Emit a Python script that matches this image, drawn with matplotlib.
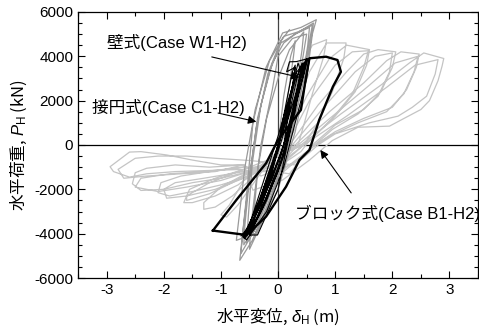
import matplotlib
matplotlib.use("Agg")
import matplotlib.pyplot as plt
from matplotlib.ticker import MultipleLocator

plt.rcParams['font.family'] = ['Liberation Sans', 'Noto Sans CJK JP']
plt.rcParams['mathtext.fontset'] = 'custom'
plt.rcParams['mathtext.rm'] = 'Liberation Sans'
plt.rcParams['mathtext.it'] = 'Liberation Sans:italic'

# ---------------- data ----------------
# Block type (Case B1-H2) - light gray
block_x = [0.0, 0.2, 0.45, 0.6, 0.85, 0.8, 0.6, 0.45, 0.35, 0.1, -0.3, -0.6, -0.85, -1.0, -0.9, -0.7, -0.45, -0.2,
           0.0, 0.3, 0.55, 0.85, 1.19, 1.15, 0.95, 0.7, 0.45, 0.1, -0.5, -1.0, -1.3, -1.3, -1.1, -0.8, -0.5, -0.2,
           0.1, 0.5, 0.9, 1.2, 1.6, 1.55, 1.35, 1.0, 0.6, 0.45, 0.1, -0.6, -1.1, -1.55, -1.65, -1.5, -1.1, -0.7, -0.3,
           0.15, 0.55, 1.0, 1.3, 1.58, 1.5, 1.3, 0.95, 0.55, 0.4, 0.0, -0.7, -1.2, -1.6, -1.6, -1.2, -0.8, -0.4,
           0.2, 0.7, 1.2, 1.5, 1.75, 2.06, 2.0, 1.8, 1.5, 1.0, 0.6, 0.2, -0.6, -1.2, -1.7, -2.05, -2.1, -1.9, -1.5, -1.0, -0.5,
           0.25, 0.8, 1.35, 1.7, 2.0, 1.95, 1.75, 1.4, 0.95, 0.55, 0.1, -0.6, -1.3, -1.8, -2.0, -1.95, -1.6, -1.1, -0.6,
           0.3, 0.9, 1.5, 1.9, 2.15, 2.47, 2.42, 2.25, 2.0, 1.5, 1.0, 0.65, 0.3, -0.3, -0.6, -1.2, -1.8, -2.3, -2.5, -2.55, -2.4, -2.0, -1.5, -1.0, -0.5,
           0.35, 1.0, 1.6, 2.05, 2.45, 2.38, 2.2, 1.9, 1.4, 0.9, 0.6, 0.1, -0.6, -1.3, -1.9, -2.4, -2.5, -2.1, -1.6, -1.0, -0.5,
           0.4, 1.1, 1.8, 2.3, 2.55, 2.9, 2.87, 2.8, 2.65, 2.5, 1.95, 1.4, 0.95, 0.55, 0.08, -0.44, -0.6, -1.0, -1.5, -1.95, -2.4, -2.6, -2.94,
           -2.88, -2.6, -2.3, -1.8, -1.2, -0.6, -0.2,
           0.45, 1.2, 1.9, 2.4, 2.8, 2.75, 2.6, 2.35, 2.1, 1.6, 1.0, 0.7, 0.3, -0.5, -1.1, -1.6, -2.1, -2.5, -2.8, -2.7, -2.3, -1.7, -1.1, -0.6]
block_y = [0, 1500, 3800, 4500, 4750, 4000, 2300, 900, 0, -700, -1100, -1600, -2700, -3150, -3250, -2700, -1800, -900,
           -200, 1500, 3300, 4600, 4600, 3900, 2400, 1000, 0, -800, -1200, -1900, -2600, -2900, -2800, -2300, -1600, -900,
           0, 2200, 3900, 4500, 4300, 3600, 2400, 1300, 300, 0, -700, -1100, -1500, -2000, -2600, -2600, -2300, -1800, -1000,
           0, 2000, 3600, 4200, 4250, 3500, 2300, 1200, 200, -300, -1000, -1200, -1700, -2300, -2500, -2200, -1700, -1100,
           0, 1800, 3300, 4100, 4300, 4200, 3500, 2400, 1600, 900, 0, -1300, -1000, -1200, -1400, -1700, -2150, -2300, -2100, -1800, -1400,
           0, 1700, 3300, 4000, 4150, 3300, 2200, 1400, 700, -200, -1200, -1200, -1500, -1700, -2000, -2400, -2300, -2000, -1500,
           0, 1500, 2800, 3800, 4200, 4100, 3500, 2500, 1700, 1200, 600, 0, -800, -1400, -900, -1000, -900, -1050, -1250, -1750, -2050, -2000, -1700, -1500, -1200,
           0, 1400, 2700, 3700, 4000, 3300, 2300, 1500, 1000, 400, -100, -1100, -1000, -1200, -1300, -1500, -1900, -2100, -1900, -1600, -1200,
           0, 1400, 2700, 3700, 4150, 3900, 3550, 2900, 2000, 1600, 850, 800, 200, -680, -1580, -2040, -900, -900, -680, -450, -300, -320, -980,
           -1200, -1450, -1300, -1200, -1150, -1100, -700,
           0, 1300, 2600, 3600, 3850, 3200, 2200, 1700, 1300, 1000, 500, 0, -900, -700, -600, -500, -500, -600, -1100, -1500, -1400, -1300, -1200, -900]

# Circular type (Case C1-H2) - medium gray
circ_x = [0.0, 0.1, 0.22, 0.3, 0.27, 0.15, -0.05, -0.25, -0.4, -0.45, -0.42, -0.35, -0.2, 0.0,
          0.2, 0.45, 0.42, 0.3, 0.1, -0.15, -0.4, -0.55, -0.52, -0.45, -0.3, -0.1, 0.1,
          0.3, 0.55, 0.52, 0.4, 0.2, -0.1, -0.45, -0.67, -0.62, -0.56, -0.44, -0.21, 0.08,
          0.4, 0.67, 0.6, 0.5, 0.3, 0.0, -0.4, -0.73, -0.68, -0.58, -0.4, -0.15, 0.1,
          0.35, 0.6, 0.55, 0.42, 0.25, 0.0, -0.3, -0.5, -0.48, -0.4, -0.3, -0.1, 0.0,
          0.25, 0.5, 0.45, 0.35, 0.15, -0.1, -0.35, -0.6, -0.58, -0.5, -0.36, -0.15, 0.05,
          0.3, 0.62, 0.58, 0.45, 0.22, -0.05, -0.38, -0.65, -0.62, -0.52, -0.38, -0.18, 0.05, 0.2]
circ_y = [0, 2200, 4000, 4700, 4000, 1800, -500, -2400, -3600, -4000, -3000, -1000, 1200, 3000,
          4300, 5100, 4300, 2200, 0, -2000, -3800, -4400, -3200, -800, 1800, 3700, 4600,
          5000, 5300, 4500, 2500, 200, -2200, -4300, -5200, -4000, -2500, 1000, 3500, 5050,
          5300, 5650, 5000, 3000, 600, -2000, -4000, -4300, -3200, -1000, 1600, 3800, 4900,
          5100, 5400, 4700, 2800, 600, -1500, -3600, -4700, -3800, -2000, 0, 2500, 4000,
          4800, 5000, 4200, 2600, 400, -1800, -3500, -4500, -3600, -1500, 1200, 3300, 4600,
          5000, 5500, 4800, 2900, 500, -1700, -3700, -4900, -4000, -1800, 800, 3200, 4700, 5200]

# Wall type (Case W1-H2) - thin black cycles
wall_x = [0.0, 0.15, 0.25, 0.3, 0.28, 0.1, -0.1, -0.3, -0.45, -0.42, -0.2, 0.0,
          0.2, 0.35, 0.42, 0.38, 0.2, 0.0, -0.3, -0.5, -0.45, -0.2, 0.0,
          0.25, 0.45, 0.5, 0.45, 0.25, 0.05, -0.35, -0.6, -0.5, -0.2, 0.1,
          0.3, 0.15, 0.2, 0.32, 0.55, 0.5, 0.3, 0.1, -0.2, -0.55, -0.62, -0.4, -0.1, 0.15,
          0.35, 0.4, 0.3, 0.1, -0.2, -0.5, -0.36, 0.0, 0.2,
          0.38, 0.48, 0.4, 0.22, 0.0, -0.3, -0.52, -0.58, -0.45, -0.25, 0.0, 0.2,
          0.33, 0.45, 0.36, 0.15, -0.1, -0.4, -0.57, -0.5, -0.3, -0.05, 0.15, 0.3, 0.42,
          0.52, 0.43, 0.25, 0.05, -0.25, -0.48, -0.65, -0.55, -0.35, -0.1, 0.1, 0.25]
wall_y = [0, 2000, 3300, 3600, 3000, 1000, -1200, -2800, -3800, -3300, -1500, 0,
          1500, 3200, 3700, 3000, 1000, -1000, -3000, -4000, -3500, -1800, -300,
          1800, 3500, 3900, 3200, 1200, -800, -3200, -4150, -3800, -2000, 0,
          3500, 3300, 3750, 3760, 3910, 3000, 1000, -1000, -3000, -4280, -4140, -3000, -1000, 1500,
          3700, 3300, 1500, -500, -2500, -4060, -4060, -2000, 500,
          3200, 3800, 2800, 800, -1200, -3000, -4000, -4200, -3200, -1600, 400, 2200,
          3300, 3700, 2600, 400, -1500, -3200, -4000, -3900, -2600, -600, 1300, 2900, 3600,
          3850, 3000, 1300, -400, -2400, -3600, -4100, -3900, -2600, -900, 900, 2600]

# Wall type large cycle - thick black
wall_big_x = [-1.14, -0.73, -0.21, 0.0, 0.4, 0.49, 0.55, 0.84, 1.04, 1.1, 0.96, 0.72, 0.55, 0.375, 0.14, -0.21, -0.55, -0.79, -1.14]
wall_big_y = [-3860, -2480, -825, 225, 1580, 3080, 3910, 3980, 3830, 3300, 2630, 1130, -225, -676, -1880, -3230, -4060, -3980, -3860]

x_ticks = [-3, -2, -1, 0, 1, 2, 3]
y_ticks = [-6000, -4000, -2000, 0, 2000, 4000, 6000]

# ---------------- plot ----------------
fig = plt.figure(figsize=(4.79, 3.31), dpi=100)
ax = fig.add_axes([0.163, 0.160, 0.835, 0.804])

ax.plot(block_x, block_y, color='#c4c4c4', lw=0.9, zorder=2)
ax.plot(circ_x, circ_y, color='#9a9a9a', lw=0.9, zorder=3)
ax.plot(wall_x, wall_y, color='black', lw=0.8, zorder=4)
ax.plot(wall_big_x, wall_big_y, color='black', lw=1.7, zorder=5)

ax.axhline(0, color='black', lw=0.9, zorder=1)
ax.axvline(0, color='#444444', lw=0.9, zorder=1)

ax.set_xlim(-3.5, 3.5)
ax.set_ylim(-6000, 6000)
ax.set_xticks(x_ticks)
ax.set_yticks(y_ticks)
ax.set_xticklabels([str(v) for v in x_ticks])
ax.set_yticklabels([str(v) for v in y_ticks])
ax.xaxis.set_minor_locator(MultipleLocator(0.5))
ax.yaxis.set_minor_locator(MultipleLocator(500))
ax.tick_params(which='both', direction='in', top=True, right=True, labelsize=11, width=0.8)
ax.tick_params(which='major', length=5)
ax.tick_params(which='minor', length=3)
for s in ax.spines.values():
    s.set_linewidth(0.9)

ax.set_xlabel('水平変位, $\\delta_{\\mathrm{H}}$ (m)', fontsize=12, labelpad=6,
              family='Noto Sans CJK JP')
ax.set_ylabel('水平荷重, $P_{\\mathrm{H}}$ (kN)', fontsize=12, labelpad=4,
              family='Noto Sans CJK JP')

arrow = dict(arrowstyle='-|>', color='black', lw=0.8, mutation_scale=12, shrinkA=0, shrinkB=0)
ax.text(-2.99, 4600, '壁式(Case W1-H2)', fontsize=12, va='center', ha='left')
ax.annotate('', xy=(0.375, 3050), xytext=(-1.16, 3970), arrowprops=arrow)
ax.text(-3.25, 1710, '接円式(Case C1-H2)', fontsize=12, va='center', ha='left')
ax.annotate('', xy=(-0.38, 1050), xytext=(-1.05, 1440), arrowprops=arrow)
ax.text(0.29, -3070, 'ブロック式(Case B1-H2)', fontsize=12, va='center', ha='left', clip_on=False)
ax.annotate('', xy=(0.74, -225), xytext=(1.28, -2160), arrowprops=arrow)

fig.savefig('out.png', dpi=100)
